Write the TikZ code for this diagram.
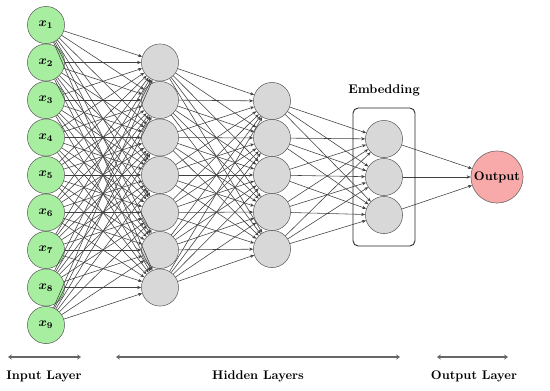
\documentclass[tikz,border=0pt]{standalone}
\usepackage{amsmath}
\usetikzlibrary{arrows.meta,positioning,fit}

\definecolor{ingreen}{RGB}{168,238,160}
\definecolor{hidgray}{RGB}{216,216,216}
\definecolor{outpink}{RGB}{248,170,170}

\tikzset{
  neuron/.style={circle,draw=black!65,fill=hidgray,minimum size=1.04cm,inner sep=0pt},
  inputneuron/.style={neuron,fill=ingreen},
  outputneuron/.style={neuron,fill=outpink,minimum size=1.46cm},
  wire/.style={draw=black!75,line width=0.45pt,-{Stealth[length=3.2pt,width=2.6pt]}},
  layerspan/.style={draw=black!60,line width=0.9pt,{Stealth[length=3pt,width=4pt]}-{Stealth[length=3pt,width=4pt]}},
  layertitle/.style={font=\bfseries}
}

\begin{document}
\begin{tikzpicture}[x=0.028cm,y=-0.028cm]
	\useasboundingbox (0,0) rectangle (550,390);
	% layers
	\foreach \n in {1,...,9}{
		\pgfmathsetmacro{\ypos}{175+(\n-5)*37.5}
		\node[inputneuron] (in\n) at (46,\ypos) {$\boldsymbol{x_{\n}}$};
	}
	\foreach \n in {1,...,7}{
		\pgfmathsetmacro{\ypos}{175+(\n-4)*37.5}
		\node[neuron] (ha\n) at (160,\ypos) {};
	}
	\foreach \n in {1,...,5}{
		\pgfmathsetmacro{\ypos}{175+(\n-3)*37}
		\node[neuron] (hb\n) at (272,\ypos) {};
	}
	\foreach \n in {1,...,3}{
		\pgfmathsetmacro{\ypos}{177+(\n-2)*38}
		\node[neuron] (em\n) at (384,\ypos) {};
	}
	\node[outputneuron] (out) at (497,177) {\bfseries Output};
	% connections
	\foreach \a in {1,...,9}
		\foreach \b in {1,...,7}
			\draw[wire] (in\a) -- (ha\b);
	\foreach \a in {1,...,7}
		\foreach \b in {1,...,5}
			\draw[wire] (ha\a) -- (hb\b);
	\foreach \a in {1,...,5}
		\foreach \b in {1,...,3}
			\draw[wire] (hb\a) -- (em\b);
	\foreach \a in {1,...,3}
		\draw[wire] (em\a) -- (out);
	% embedding box
	\node[draw=black!85,line width=0.7pt,rounded corners=4pt,inner sep=0.34cm,fit=(em1)(em3)] (emb) {};
	\node[layertitle] (embtitle) at (384,90) {Embedding};
	% layer spans
	\coordinate (inL) at (8,357);
	\coordinate (inR) at (81,357);
	\coordinate (hidL) at (116,357);
	\coordinate (hidR) at (400,357);
	\coordinate (outL) at (437,357);
	\coordinate (outR) at (508,357);
	\draw[layerspan] (inL) -- (inR);
	\draw[layerspan] (hidL) -- (hidR);
	\draw[layerspan] (outL) -- (outR);
	\node[layertitle] (intitle) at (44,376) {Input Layer};
	\node[layertitle] (hidtitle) at (258,376) {Hidden Layers};
	\node[layertitle] (outtitle) at (474,376) {Output Layer};
\end{tikzpicture}
\end{document}
